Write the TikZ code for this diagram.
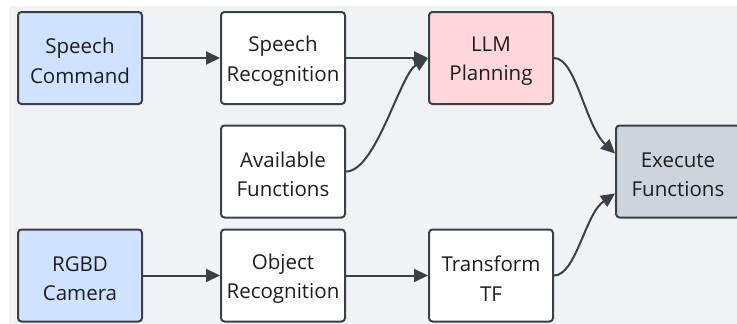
\documentclass[tikz,border=0pt]{standalone}
\usepackage{fontspec}
\setmainfont{Open Sans}
\usetikzlibrary{arrows.meta}
\definecolor{bgc}{HTML}{F1F2F4}
\definecolor{edgec}{HTML}{3A4048}
\definecolor{bluec}{HTML}{CFE2FF}
\definecolor{pinkc}{HTML}{FFD7DA}
\definecolor{grayc}{HTML}{CED4DA}
\definecolor{txtc}{HTML}{1E1E1E}
\tikzset{
  box/.style={draw=edgec, line width=2pt, rounded corners=3.5pt, fill=white,
    minimum width=124pt, minimum height=92pt, inner sep=0pt},
  lbl/.style={align=center, text=txtc, inner sep=0pt,
    font=\fontsize{20.5pt}{29.4pt}\selectfont},
  conn/.style={draw=edgec, line width=2pt, -{Triangle[length=14pt,width=13pt]}}
}
\begin{document}
\begin{tikzpicture}[x=1pt,y=-1pt]
\useasboundingbox (0,0) rectangle (737,324);
\fill[bgc] (9,6) rectangle (737,324);
\begin{scope}
\clip (0,0) rectangle (737,324);
\node[box, fill=bluec] (sc) at (80,58) {};
\node[box] (sr) at (283,58) {};
\node[box] (af) at (283,171.5) {};
\node[box, fill=pinkc] (llm) at (491,58) {};
\node[box, fill=grayc] (ef) at (678,171.5) {};
\node[box, fill=bluec] (rg) at (80,275.5) {};
\node[box] (or) at (283,275.5) {};
\node[box] (tf) at (491,275.5) {};
\node[lbl] (sct) at ([yshift=-3pt]sc.center) {Speech\\Command};
\node[lbl] (srt) at ([yshift=-3pt]sr.center) {Speech\\Recognition};
\node[lbl] (aft) at ([yshift=-3pt]af.center) {Available\\Functions};
\node[lbl] (llmt) at ([yshift=-3pt]llm.center) {LLM\\Planning};
\node[lbl] (eft) at ([yshift=-3pt]ef.center) {Execute\\Functions};
\node[lbl] (rgt) at ([yshift=-3pt]rg.center) {RGBD\\Camera};
\node[lbl] (ort) at ([yshift=-3pt]or.center) {Object\\Recognition};
\node[lbl] (tft) at ([yshift=-3pt]tf.center) {Transform\\TF};
\coordinate (efa) at ([yshift=18pt]ef.west);
\coordinate (efb) at ([yshift=-22pt]ef.west);
\draw[conn] (sc.east) -- (sr.west);
\draw[conn] (sr.east) -- (llm.west);
\draw[conn] (af.east) .. controls +(30,0) and (400,74) .. (llm.west);
\draw[conn] (llm.east) .. controls +(22,0) and (585,125) .. (efa);
\draw[conn] (rg.east) -- (or.west);
\draw[conn] (or.east) -- (tf.west);
\draw[conn] (tf.east) .. controls +(22,0) and (585,214) .. (efb);
\end{scope}
\end{tikzpicture}
\end{document}
